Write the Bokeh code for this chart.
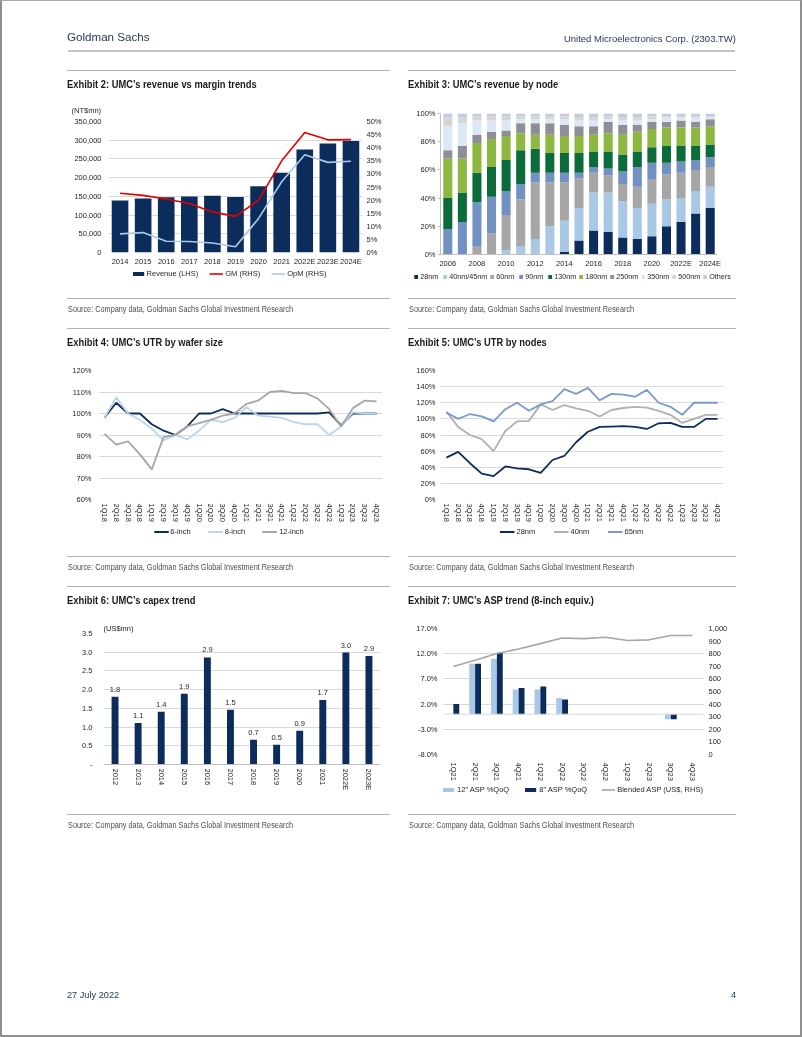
from bokeh.plotting import figure
from bokeh.models import (ColumnDataSource, FactorRange, Range1d, LinearAxis, Legend, LegendItem,
                          NumeralTickFormatter, PrintfTickFormatter, FixedTicker, Span, Div, Spacer, Title)
from bokeh.layouts import column, row
from bokeh.transform import dodge
from bokeh.embed import file_html
from bokeh.resources import INLINE
from bokeh.core.properties import value

# ---------------- data ----------------
# Exhibit 2
rev_years = ["2014", "2015", "2016", "2017", "2018", "2019", "2020", "2021", "2022E", "2023E", "2024E"]
revenue = [139000, 144000, 147900, 149400, 151300, 148200, 176800, 213000, 275000, 291000, 298000]
gross_margin = [22.6, 21.8, 20.4, 18.7, 15.5, 13.8, 20.0, 35.0, 45.8, 43.0, 43.1]
op_margin = [7.1, 7.6, 4.3, 4.2, 3.6, 2.2, 13.0, 27.0, 37.3, 34.4, 34.8]

# Exhibit 3 (share of revenue, %)
node_years = ["2006", "2007", "2008", "2009", "2010", "2011", "2012", "2013", "2014", "2015",
              "2016", "2017", "2018", "2019", "2020", "2021", "2022E", "2023E", "2024E"]
node_names = ["28nm", "40nm/45nm", "60nm", "90nm", "130nm", "180nm", "250nm", "350nm", "500nm", "Others"]
n28 = [0, 0, 0, 0, 0, 0, 0, 0, 2, 10, 17, 16, 12, 11, 13, 20, 23, 29, 33]
n40 = [0, 0, 0, 0, 3, 6, 11, 20, 22, 23, 27, 28, 26, 22, 23, 19, 17, 16, 15]
n60 = [0, 0, 6, 15, 25, 33, 40, 31, 27, 21, 14, 12, 12, 15, 17, 18, 18, 15, 14]
n90 = [18, 23, 31, 26, 17, 11, 7, 7, 7, 4, 4, 5, 9, 14, 12, 8, 8, 7, 7]
n130 = [22, 21, 21, 21, 22, 24, 17, 14, 14, 14, 11, 12, 12, 11, 11, 12, 11, 10, 9]
n180 = [28, 24, 21, 20, 17, 12, 10, 13, 12, 12, 12, 13, 14, 14, 13, 13, 13, 13, 13]
n250 = [6, 9, 6, 5, 4, 7, 8, 8, 8, 7, 6, 8, 7, 5, 5, 4, 5, 4, 5]
n350 = [17, 16, 10, 8, 7, 3, 3, 3, 4, 4, 4, 2, 3, 3, 2, 3, 2, 3, 1]
n500 = [6, 4, 3, 3, 3, 2, 2, 2, 2, 2, 2, 2, 2, 2, 2, 1, 1, 1, 1]
n_others = [3, 3, 2, 2, 2, 2, 2, 2, 2, 3, 3, 2, 3, 3, 2, 2, 2, 2, 2]

# Exhibit 4 / 5 (quarters)
quarters = ["1Q18", "2Q18", "3Q18", "4Q18", "1Q19", "2Q19", "3Q19", "4Q19",
            "1Q20", "2Q20", "3Q20", "4Q20", "1Q21", "2Q21", "3Q21", "4Q21",
            "1Q22", "2Q22", "3Q22", "4Q22", "1Q23", "2Q23", "3Q23", "4Q23"]
utr_6in = [98, 105, 100, 100, 95, 92, 90, 94, 100, 100, 102, 100, 100, 100, 100, 100,
           100, 100, 100, 100.5, 94.5, 100, 100, 100]
utr_8in = [98, 107.5, 100, 97, 93, 87.5, 90, 88, 92, 97, 96, 98, 103, 99, 98.5, 98,
           96, 95, 95, 90, 94, 100.5, 100, 100]
utr_12in = [90.5, 85.5, 87, 81, 74, 89, 90, 94, 95.5, 97, 99, 100, 104.5, 106, 110, 110.5,
            109.5, 109.5, 107, 102, 94, 102.5, 106, 105.6]
utr_28 = [52, 59, 45, 32, 29, 41, 38.5, 37.5, 33, 49, 54, 71, 84, 90, 90.5, 91,
          90, 87.5, 94.5, 95, 90, 90, 100, 100]
utr_40 = [109, 90, 80, 75, 60, 85, 97, 97.5, 118, 111, 117, 113, 110, 103, 111, 113.5,
          115, 114, 110, 105, 95, 100, 105, 105]
utr_65 = [108, 100, 106, 103, 97, 112, 120, 110, 118, 122, 137, 131, 138.5, 123, 131, 130,
          127.5, 136, 120, 115, 105, 120, 120, 120]

# Exhibit 6
capex_years = ["2012", "2013", "2014", "2015", "2016", "2017", "2018", "2019", "2020", "2021", "2022E", "2023E"]
capex = [1.81, 1.11, 1.41, 1.89, 2.86, 1.46, 0.66, 0.53, 0.90, 1.72, 2.99, 2.90]

# Exhibit 7
asp_quarters = ["1Q21", "2Q21", "3Q21", "4Q21", "1Q22", "2Q22", "3Q22", "4Q22", "1Q23", "2Q23", "3Q23", "4Q23"]
nan = float("nan")
asp_12in = [nan, 10.0, 11.0, 4.9, 4.9, 3.2, nan, nan, nan, nan, -1.0, nan]
asp_8in = [2.0, 10.0, 12.2, 5.2, 5.5, 2.9, nan, nan, nan, nan, -1.0, nan]
blended_asp = [698, 748, 801, 838, 880, 925, 920, 930, 905, 910, 945, 945]

# ---------------- style ----------------
NAVY = "#0c2d5b"
LBLUE = "#a9c8e6"
RED = "#e00000"
OPM = "#a9cbe9"
C8, C12 = "#b9d6f0", "#a6a6a6"
C40, C65 = "#b0b0b0", "#7a9acb"
GREYLINE = "#a6a6a6"
FONT = "Liberation Sans"
TS = "7.5px"
TXT = "#262626"
GRID = "#d9d9d9"
HDR = "#23395b"
CSSFONT = "'Liberation Sans',Arial,sans-serif"


def style_axis(ax, standoff=6):
    ax.axis_line_color = None
    ax.major_tick_line_color = None
    ax.minor_tick_line_color = None
    ax.major_tick_out = 0
    ax.major_tick_in = 0
    ax.minor_tick_out = 0
    ax.major_label_text_font = FONT
    ax.major_label_text_font_size = TS
    ax.major_label_text_color = TXT
    ax.major_label_standoff = standoff


def base_fig(width, height, x_range, y_range, left, right, top, bottom):
    p = figure(width=width, height=height, x_range=x_range, y_range=y_range, title=None,
               output_backend="svg", toolbar_location=None,
               min_border_left=left, min_border_right=right, min_border_top=top, min_border_bottom=bottom)
    p.outline_line_color = None
    p.xgrid.grid_line_color = None
    p.ygrid.grid_line_color = GRID
    for ax in p.axis:
        style_axis(ax)
    return p


def legend_fig(width, height, x_range, entries, margin, spacing, gw=14, gh=5, font_size=TS):
    """Legend strip under a chart. The chart's own series are attached here again (hidden),
    so that only their legend swatches show."""
    lf = figure(width=width, height=height, x_range=x_range, y_range=Range1d(-1000, -999), title=None,
                output_backend="svg", toolbar_location=None, min_border=0,
                x_axis_type=None, y_axis_type=None)
    lf.frame_align = False
    lf.outline_line_color = None
    items = []
    for label, kind, kw in entries:
        r = lf.vbar(**kw) if kind == "bar" else lf.line(**kw)
        r.visible = False
        items.append(LegendItem(label=label, renderers=[r]))
    lf.add_layout(Legend(items=items, location="top_center", orientation="horizontal",
                         label_text_font=FONT, label_text_font_size=font_size, label_text_color=TXT,
                         glyph_width=gw, glyph_height=gh, label_standoff=2, spacing=spacing,
                         padding=0, margin=margin, border_line_color=None, background_fill_alpha=0,
                         inactive_fill_alpha=0, label_height=8))
    return lf


def unit_title(text, offset, standoff):
    return Title(text=text, align="left", offset=offset, standoff=standoff, text_font=FONT,
                 text_font_size=TS, text_font_style="normal", text_color=TXT)


def title_div(text, width):
    html = (f'<div style="position:relative;width:{width}px;height:24px;border-top:1px solid #b3b3b3;box-sizing:border-box;">'
            f'<div style="position:absolute;left:0;top:7px;white-space:nowrap;font-family:{CSSFONT};'
            f'font-weight:bold;font-size:10.5px;line-height:12px;color:#1a1a1a;transform:scaleX(0.89);transform-origin:0 0;">{text}</div></div>')
    return Div(text=html, width=width, height=24, margin=0)


def source_div(width):
    html = (f'<div style="position:relative;width:{width}px;height:30px;border-top:1px solid #b3b3b3;box-sizing:border-box;">'
            f'<div style="position:absolute;left:1px;top:5px;white-space:nowrap;font-family:{CSSFONT};'
            f'font-size:8.5px;line-height:10px;color:#4d4d4d;transform:scaleX(0.86);transform-origin:0 0;">'
            f'Source: Company data, Goldman Sachs Global Investment Research</div></div>')
    return Div(text=html, width=width, height=30, margin=0)


def block(width, title, figs):
    return column(title_div(title, width), *figs, source_div(width), spacing=0)


# ---------------- Exhibit 2 ----------------
src2 = ColumnDataSource(dict(year=rev_years, revenue=revenue, gm=gross_margin, opm=op_margin))
x2 = FactorRange(*rev_years)
p2 = base_fig(323, 174, x2, Range1d(0, 350000), 41, 28, 27, 15)
p2.extra_y_ranges = {"pct": Range1d(0, 50)}
bar2 = dict(x="year", top="revenue", width=0.72, source=src2, fill_color=NAVY, line_color=None)
gm2 = dict(x="year", y="gm", source=src2, line_color=RED, line_width=1.6)
op2 = dict(x="year", y="opm", source=src2, line_color=OPM, line_width=1.6)
p2.vbar(**bar2)
p2.line(y_range_name="pct", **gm2)
p2.line(y_range_name="pct", **op2)
p2.yaxis.ticker = FixedTicker(ticks=[0, 50000, 100000, 150000, 200000, 250000, 300000, 350000])
p2.yaxis.formatter = NumeralTickFormatter(format="0,0")
ax2r = LinearAxis(y_range_name="pct", ticker=FixedTicker(ticks=[0, 5, 10, 15, 20, 25, 30, 35, 40, 45, 50]),
                  formatter=PrintfTickFormatter(format="%d%%"))
style_axis(ax2r, 4)
p2.add_layout(ax2r, "right")
p2.yaxis[0].major_label_standoff = 7
p2.xaxis.major_label_standoff = 4
p2.add_layout(unit_title("(NT$mn)", -37, 14), "above")
lg2 = legend_fig(323, 30, x2, [("Revenue (LHS)", "bar", bar2), ("GM (RHS)", "line", gm2),
                               ("OpM (RHS)", "line", op2)], 1, 11)

# ---------------- Exhibit 3 ----------------
node_cols = ["n28", "n40", "n60", "n90", "n130", "n180", "n250", "n350", "n500", "others"]
src3 = ColumnDataSource(dict(pos=list(range(len(node_years))), year=node_years, n28=n28, n40=n40, n60=n60,
                             n90=n90, n130=n130, n180=n180, n250=n250, n350=n350, n500=n500, others=n_others))
node_colors = [NAVY, "#a9c8e6", "#a6a6a6", "#7191c2", "#0b6b3b", "#8cb83f", "#8e8e96", "#dbe9f6", "#d6d6d6", "#c3cbe0"]
x3 = Range1d(-0.5, len(node_years) - 0.5)
p3 = base_fig(328, 176, x3, Range1d(0, 100), 32, 19, 19, 15)
p3.ygrid.grid_line_color = None
p3.vbar_stack(node_cols, x="pos", width=0.62, color=node_colors, source=src3, line_color=None)
p3.yaxis.ticker = FixedTicker(ticks=[0, 20, 40, 60, 80, 100])
p3.yaxis.formatter = PrintfTickFormatter(format="%d%%")
p3.yaxis.axis_line_color = "#bfbfbf"
p3.yaxis.major_tick_line_color = "#bfbfbf"
p3.yaxis.major_tick_out = 3
p3.yaxis.major_label_standoff = 2
p3.xaxis.axis_line_color = "#bfbfbf"
p3.xaxis.major_label_standoff = 4
p3.xaxis.ticker = FixedTicker(ticks=list(range(0, len(node_years), 2)))
p3.xaxis.major_label_overrides = {i: y for i, y in enumerate(node_years)}
lg3 = legend_fig(328, 28, x3, [(n, "bar", dict(x="pos", top=c, width=0.62, source=src3, fill_color=col, line_color=None))
                               for n, c, col in zip(node_names, node_cols, node_colors)], 2, 2, gw=5, gh=5,
                 font_size="7.2px")

# ---------------- Exhibit 4 ----------------
src4 = ColumnDataSource(dict(q=quarters, a=utr_6in, b=utr_8in, c=utr_12in))
x4 = FactorRange(*quarters)
p4 = base_fig(323, 175, x4, Range1d(60, 120), 31, 8, 18, 28)
l4 = [dict(x="q", y=k, source=src4, line_color=c, line_width=1.8) for k, c in (("a", NAVY), ("b", C8), ("c", C12))]
for kw in l4:
    p4.line(**kw)
p4.yaxis.ticker = FixedTicker(ticks=[60, 70, 80, 90, 100, 110, 120])
p4.yaxis.formatter = PrintfTickFormatter(format="%d%%")
p4.yaxis.major_label_standoff = 7
p4.xaxis.major_label_orientation = "vertical"
p4.xaxis.major_label_standoff = 4
lg4 = legend_fig(323, 29, x4, [(n, "line", kw) for n, kw in zip(["6-inch", "8-inch", "12-inch"], l4)], 0, 17, gw=15)

# ---------------- Exhibit 5 ----------------
src5 = ColumnDataSource(dict(q=quarters, a=utr_28, b=utr_40, c=utr_65))
x5 = FactorRange(*quarters)
p5 = base_fig(328, 175, x5, Range1d(0, 160), 32, 13, 18, 28)
l5 = [dict(x="q", y=k, source=src5, line_color=c, line_width=1.8) for k, c in (("a", NAVY), ("b", C40), ("c", C65))]
for kw in l5:
    p5.line(**kw)
p5.yaxis.ticker = FixedTicker(ticks=[0, 20, 40, 60, 80, 100, 120, 140, 160])
p5.yaxis.formatter = PrintfTickFormatter(format="%d%%")
p5.yaxis.major_label_standoff = 5
p5.xaxis.major_label_orientation = "vertical"
p5.xaxis.major_label_standoff = 4
lg5 = legend_fig(328, 29, x5, [(n, "line", kw) for n, kw in zip(["28nm", "40nm", "65nm"], l5)], 0, 17, gw=15)

# ---------------- Exhibit 6 ----------------
src6 = ColumnDataSource(dict(year=capex_years, capex=capex, lab=[f"{v:.1f}" for v in capex]))
p6 = base_fig(323, 204, FactorRange(*capex_years), Range1d(0, 3.5), 36, 10, 23, 50)
p6.vbar(x="year", top="capex", width=0.3, source=src6, fill_color=NAVY, line_color=None)
p6.text(x="year", y="capex", text="lab", source=src6, y_offset=-5, text_align="center", text_baseline="bottom",
        text_font=value(FONT), text_font_size=value(TS), text_color=TXT)
p6.yaxis.ticker = FixedTicker(ticks=[0, 0.5, 1.0, 1.5, 2.0, 2.5, 3.0, 3.5])
p6.yaxis.formatter = NumeralTickFormatter(format="0.0")
p6.yaxis.major_label_overrides = {0: "-"}
p6.yaxis.major_label_standoff = 11
p6.xaxis.axis_line_color = "#bfbfbf"
p6.xaxis.major_label_orientation = "vertical"
p6.xaxis.major_label_standoff = 4
p6.add_layout(unit_title("(US$mn)", 0, 1), "above")

# ---------------- Exhibit 7 ----------------
src7 = ColumnDataSource(dict(q=asp_quarters, a=asp_12in, b=asp_8in, c=blended_asp))
x7 = FactorRange(*asp_quarters)
p7 = base_fig(328, 173, x7, Range1d(-8, 17), 34, 33, 18, 27)
p7.extra_y_ranges = {"asp": Range1d(0, 1000)}
b12 = dict(x=dodge("q", -0.135, range=x7), top="a", width=0.27, source=src7, fill_color=LBLUE, line_color=None)
b8 = dict(x=dodge("q", 0.135, range=x7), top="b", width=0.27, source=src7, fill_color=NAVY, line_color=None)
bl = dict(x="q", y="c", source=src7, line_color=GREYLINE, line_width=1.6)
p7.vbar(**b12)
p7.vbar(**b8)
p7.line(y_range_name="asp", **bl)
p7.add_layout(Span(location=0, dimension="width", line_color=GRID, line_width=1))
p7.yaxis.ticker = FixedTicker(ticks=[-8, -3, 2, 7, 12, 17])
p7.yaxis.formatter = PrintfTickFormatter(format="%.1f%%")
p7.yaxis.major_label_standoff = 5
ax7r = LinearAxis(y_range_name="asp", ticker=FixedTicker(ticks=[0, 100, 200, 300, 400, 500, 600, 700, 800, 900, 1000]),
                  formatter=NumeralTickFormatter(format="0,0"))
style_axis(ax7r, 5)
p7.add_layout(ax7r, "right")
p7.xaxis.major_label_orientation = "vertical"
p7.xaxis.major_label_standoff = 8
lg7 = legend_fig(328, 31, x7, [('12" ASP %QoQ', "bar", b12), ('8" ASP %QoQ', "bar", b8),
                               ("Blended ASP (US$, RHS)", "line", bl)], 2, 14, gw=14)

# ---------------- page ----------------
header = Div(width=794, height=70, margin=0, text=(
    '<div style="position:relative;width:794px;height:70px;">'
    '<div style="position:fixed;left:0;top:0;width:802px;height:1037px;box-sizing:border-box;'
    'border-left:2px solid #8f8f8f;border-right:2px solid #8f8f8f;border-top:1px solid #a8a8a8;'
    'border-bottom:2px solid #8f8f8f;pointer-events:none;"></div>'
    f'<div style="position:absolute;left:67px;top:30px;white-space:nowrap;font-family:{CSSFONT};'
    f'font-size:11.6px;line-height:14px;color:{HDR};">Goldman Sachs</div>'
    f'<div style="position:absolute;right:58px;top:33px;white-space:nowrap;font-family:{CSSFONT};'
    f'font-size:9.5px;line-height:12px;color:{HDR};">United Microelectronics Corp. (2303.TW)</div>'
    '<div style="position:absolute;left:68px;top:50px;width:667px;height:2px;background:#c4c4c4;"></div>'
    '</div>'))

footer = Div(width=794, height=185, margin=0, text=(
    '<div style="position:relative;width:794px;height:185px;">'
    f'<div style="position:absolute;left:67px;top:145px;white-space:nowrap;font-family:{CSSFONT};'
    f'font-size:9.2px;line-height:12px;color:{HDR};">27 July 2022</div>'
    f'<div style="position:absolute;right:58px;top:145px;white-space:nowrap;font-family:{CSSFONT};'
    f'font-size:9.2px;line-height:12px;color:{HDR};">4</div>'
    '</div>'))


def page_row(left, right):
    return row(Spacer(width=67, height=258, margin=0), left, Spacer(width=18, height=258, margin=0), right, spacing=0)


root = column(
    header,
    page_row(block(323, "Exhibit 2: UMC’s revenue vs margin trends", [p2, lg2]),
             block(328, "Exhibit 3: UMC’s revenue by node", [p3, lg3])),
    page_row(block(323, "Exhibit 4: UMC’s UTR by wafer size", [p4, lg4]),
             block(328, "Exhibit 5: UMC’s UTR by nodes", [p5, lg5])),
    page_row(block(323, "Exhibit 6: UMC’s capex trend", [p6]),
             block(328, "Exhibit 7: UMC’s ASP trend (8-inch equiv.)", [p7, lg7])),
    footer,
    spacing=0,
)

open("out.html", "w").write(file_html(root, INLINE, title="UMC (2303.TW) - Goldman Sachs"))
